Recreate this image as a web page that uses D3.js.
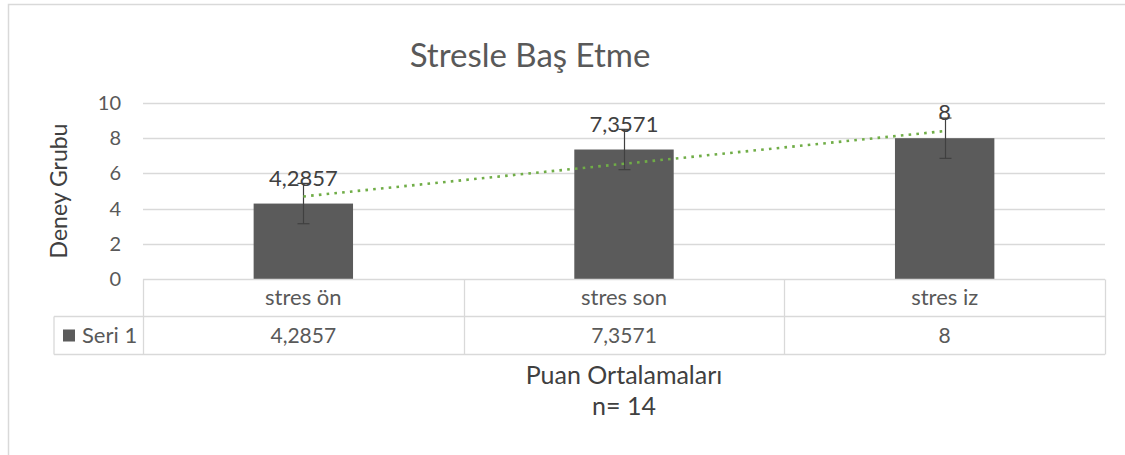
<!DOCTYPE html>
<html>
<head>
<meta charset="utf-8">
<script src="https://cdn.jsdelivr.net/npm/d3@7"></script>
<style>
  html, body { margin: 0; padding: 0; background: #fff; }
  svg { display: block; font-family: Lato, "Open Sans", sans-serif; }
</style>
</head>
<body>
<svg id="chart" width="1125" height="455"></svg>
<script>
// ---- data ----
const categories = ["stres ön", "stres son", "stres iz"];
const values = [4.2857, 7.3571, 8];
const valueLabels = ["4,2857", "7,3571", "8"];
const errors = [1.146, 1.146, 1.146];
const yTicks = [0, 2, 4, 6, 8, 10];
const seriesName = "Seri 1";
const title = "Stresle Baş Etme";
const yTitle = "Deney Grubu";
const xTitle = ["Puan Ortalamaları", "n= 14"];

// ---- layout ----
const svg = d3.select("#chart");
const plot = { left: 143, right: 1105, top: 103, bottom: 279 };
const rowH1 = 37, rowH2 = 38;
const legendLeft = 54;

const x = d3.scaleBand().domain(categories).range([plot.left, plot.right]).padding(0);
const y = d3.scaleLinear().domain([0, 10]).range([plot.bottom, plot.top]);
const barW = x.bandwidth() * 0.31;
const cx = c => x(c) + x.bandwidth() / 2;

const gridCol = "#d9d9d9";
const textCol = "#595959";

svg.append("rect").attr("width", 1125).attr("height", 455).attr("fill", "#fff");
// outer chart border (extends off canvas right/bottom)
svg.append("rect").attr("x", 8.5).attr("y", 4.5).attr("width", 1300).attr("height", 700)
  .attr("fill", "none").attr("stroke", gridCol).attr("stroke-width", 1.5);

// title
svg.append("text").attr("x", 530).attr("y", 67).attr("text-anchor", "middle")
  .attr("font-size", 33).attr("fill", textCol).text(title);

// gridlines
svg.append("g").selectAll("line").data(yTicks.filter(t => t > 0)).join("line")
  .attr("x1", plot.left).attr("x2", plot.right)
  .attr("y1", d => Math.round(y(d)) + 0.5).attr("y2", d => Math.round(y(d)) + 0.5)
  .attr("stroke", gridCol).attr("stroke-width", 1.3);

// y tick labels via axis
const yAxis = d3.axisLeft(y).tickValues(yTicks).tickSize(0).tickPadding(0).tickFormat(d3.format("d"));
const gy = svg.append("g").attr("transform", `translate(121,0)`).call(yAxis);
gy.select(".domain").remove();
gy.selectAll("text").attr("font-size", 20).attr("fill", textCol).attr("font-family", "Lato, sans-serif");

// y title
svg.append("text").attr("transform", `translate(67,${(plot.top + plot.bottom) / 2}) rotate(-90)`)
  .attr("text-anchor", "middle").attr("font-size", 23).attr("fill", "#404040").text(yTitle);

// bars
svg.append("g").selectAll("rect").data(values).join("rect")
  .attr("x", (d, i) => cx(categories[i]) - barW / 2)
  .attr("width", barW)
  .attr("y", d => y(d))
  .attr("height", d => y(0) - y(d))
  .attr("fill", "#5b5b5b");

// error bars
const eb = svg.append("g").attr("stroke", "#404040").attr("stroke-width", 1.2);
values.forEach((v, i) => {
  const c = Math.round(cx(categories[i])) + 0.5;
  eb.append("line").attr("x1", c).attr("x2", c).attr("y1", y(v + errors[i])).attr("y2", y(v - errors[i]));
  eb.append("line").attr("x1", c - 6).attr("x2", c + 6).attr("y1", y(v + errors[i])).attr("y2", y(v + errors[i]));
  eb.append("line").attr("x1", c - 6).attr("x2", c + 6).attr("y1", y(v - errors[i])).attr("y2", y(v - errors[i]));
});

// linear trendline (least squares over category index)
const n = values.length;
const xs = values.map((d, i) => i + 1);
const mx = d3.mean(xs), my = d3.mean(values);
const slope = d3.sum(xs.map((xi, i) => (xi - mx) * (values[i] - my))) / d3.sum(xs.map(xi => (xi - mx) ** 2));
const icpt = my - slope * mx;
const trend = [0, n - 1].map(i => [cx(categories[i]), y(icpt + slope * (i + 1))]);
svg.append("path").attr("d", d3.line()(trend))
  .attr("stroke", "#70ad47").attr("stroke-width", 2.6).attr("fill", "none")
  .attr("stroke-dasharray", "2.6,5.2");

// data labels
svg.append("g").selectAll("text").data(values).join("text")
  .attr("x", (d, i) => cx(categories[i]))
  .attr("y", d => y(d) - 18)
  .attr("text-anchor", "middle").attr("font-size", 22).attr("fill", "#404040")
  .text((d, i) => valueLabels[i]);

// data table
const tb = svg.append("g").attr("stroke", gridCol).attr("stroke-width", 1.3).attr("fill", "none");
const r0 = plot.bottom + 0.5, r1 = r0 + rowH1, r2 = r1 + rowH2;
tb.append("line").attr("x1", plot.left).attr("x2", plot.right).attr("y1", r0).attr("y2", r0);
tb.append("line").attr("x1", legendLeft).attr("x2", plot.right).attr("y1", r1).attr("y2", r1);
tb.append("line").attr("x1", legendLeft).attr("x2", plot.right).attr("y1", r2).attr("y2", r2);
tb.append("line").attr("x1", legendLeft).attr("x2", legendLeft).attr("y1", r1).attr("y2", r2);
const colEdges = categories.map(c => x(c)).concat([plot.right]);
colEdges.forEach(e => {
  tb.append("line").attr("x1", Math.round(e) + 0.5).attr("x2", Math.round(e) + 0.5).attr("y1", r0).attr("y2", r2);
});

svg.append("g").selectAll("text").data(categories).join("text")
  .attr("x", d => cx(d)).attr("y", (r0 + r1) / 2 + 7)
  .attr("text-anchor", "middle").attr("font-size", 22).attr("fill", textCol).text(d => d);
svg.append("g").selectAll("text").data(valueLabels).join("text")
  .attr("x", (d, i) => cx(categories[i])).attr("y", (r1 + r2) / 2 + 7)
  .attr("text-anchor", "middle").attr("font-size", 21).attr("fill", textCol).text(d => d);

// legend key in table
svg.append("rect").attr("x", 63).attr("y", (r1 + r2) / 2 - 6).attr("width", 12).attr("height", 12).attr("fill", "#5b5b5b");
svg.append("text").attr("x", 82).attr("y", (r1 + r2) / 2 + 7).attr("font-size", 22).attr("fill", textCol).text(seriesName);

// x title
svg.append("text").attr("x", (plot.left + plot.right) / 2).attr("y", 384)
  .attr("text-anchor", "middle").attr("font-size", 25).attr("fill", "#404040").text(xTitle[0]);
svg.append("text").attr("x", (plot.left + plot.right) / 2).attr("y", 415)
  .attr("text-anchor", "middle").attr("font-size", 25).attr("fill", "#404040").text(xTitle[1]);
</script>
</body>
</html>
